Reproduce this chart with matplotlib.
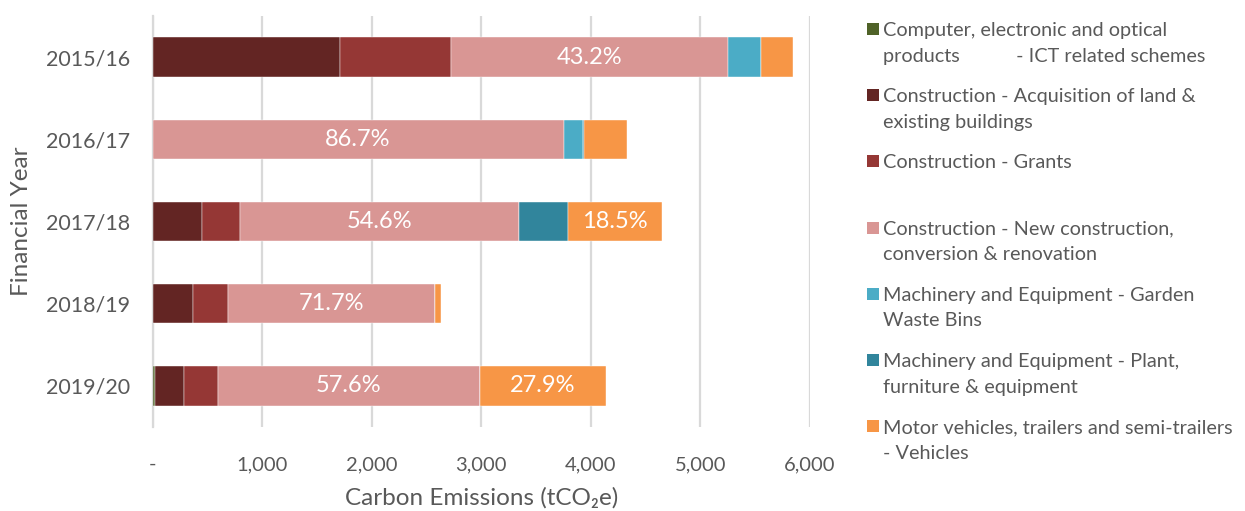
import numpy as np
import matplotlib.pyplot as plt
from matplotlib.patches import Rectangle

plt.rcParams['font.family'] = ['Lato', 'DejaVu Sans']
grey = '#595959'

years = ['2015/16', '2016/17', '2017/18', '2018/19', '2019/20']

# emissions by spend category (tCO2e)
computer = [0, 0, 0, 0, 25]
acquisition = [1709, 0, 455, 372, 265]
grants = [1016, 0, 348, 320, 310]
new_construction = [2528, 3752, 2540, 1886, 2386]
garden_bins = [301, 180, 0, 0, 0]
plant = [0, 8, 447, 0, 0]
vehicles = [292, 388, 858, 52, 1156]

series = [
    ('Computer, electronic and optical\nproducts           - ICT related schemes', computer, '#4F6228'),
    ('Construction - Acquisition of land &\nexisting buildings', acquisition, '#632523'),
    ('Construction - Grants', grants, '#953735'),
    ('Construction - New construction,\nconversion & renovation', new_construction, '#D99694'),
    ('Machinery and Equipment - Garden\nWaste Bins', garden_bins, '#4BACC6'),
    ('Machinery and Equipment - Plant,\nfurniture & equipment', plant, '#31859C'),
    ('Motor vehicles, trailers and semi-trailers\n- Vehicles', vehicles, '#F79646'),
]

fig = plt.figure(figsize=(12.45, 5.11), dpi=100)
ax = fig.add_axes([0.1225, 0.1644, 0.528, 0.8043])

y = np.arange(len(years))
totals = np.sum([s[1] for s in series], axis=0)
left = np.zeros(len(years))
for name, vals, color in series:
    vals = np.array(vals, dtype=float)
    bars = ax.barh(y, vals, left=left, height=0.48, color=color,
                   edgecolor='white', linewidth=0.3, zorder=3)
    # percentage labels on the main construction and vehicle segments
    if name.startswith('Construction - New') or name.startswith('Motor'):
        share = vals / totals
        labels = ['%.1f%%' % (s * 100) if s > 0.15 else '' for s in share]
        ax.bar_label(bars, labels=labels, label_type='center',
                     color='white', fontsize=17)
    left += vals

ax.set_xlim(0, 6000)
ax.set_ylim(len(years) - 0.5, -0.5)
ax.set_yticks(y)
ax.set_yticklabels(years, fontsize=15.5, color=grey)
ax.set_xticks(range(0, 7000, 1000))
ax.set_xticklabels(['-'] + ['{:,}'.format(v) for v in range(1000, 7000, 1000)],
                   fontsize=14.5, color=grey)
ax.tick_params(axis='both', length=0)
ax.tick_params(axis='x', pad=21)
ax.tick_params(axis='y', pad=16)
ax.grid(axis='x', color='#D9D9D9', linewidth=1.6, zorder=0)
for side in ['top', 'right', 'bottom']:
    ax.spines[side].set_visible(False)
ax.spines['left'].set_color('#D9D9D9')
ax.spines['left'].set_linewidth(1.6)

ax.set_xlabel('Carbon Emissions (tCO\u2082e)', fontsize=17.5, color=grey, labelpad=10)
ax.set_ylabel('Financial Year', fontsize=17.5, color=grey, labelpad=10)

# legend drawn by hand so each entry sits in an equal slot
W, H = 1245, 511
for i, (name, vals, color) in enumerate(series):
    top = 22 + i * 66.2
    fig.patches.append(Rectangle((867 / W, 1 - (top + 13) / H), 12 / W, 12 / H,
                                 transform=fig.transFigure, facecolor=color,
                                 edgecolor='none'))
    fig.text(883 / W, 1 - top / H, name, fontsize=14.3, color=grey,
             va='top', ha='left', linespacing=1.62)

fig.savefig('out.png', dpi=100)
